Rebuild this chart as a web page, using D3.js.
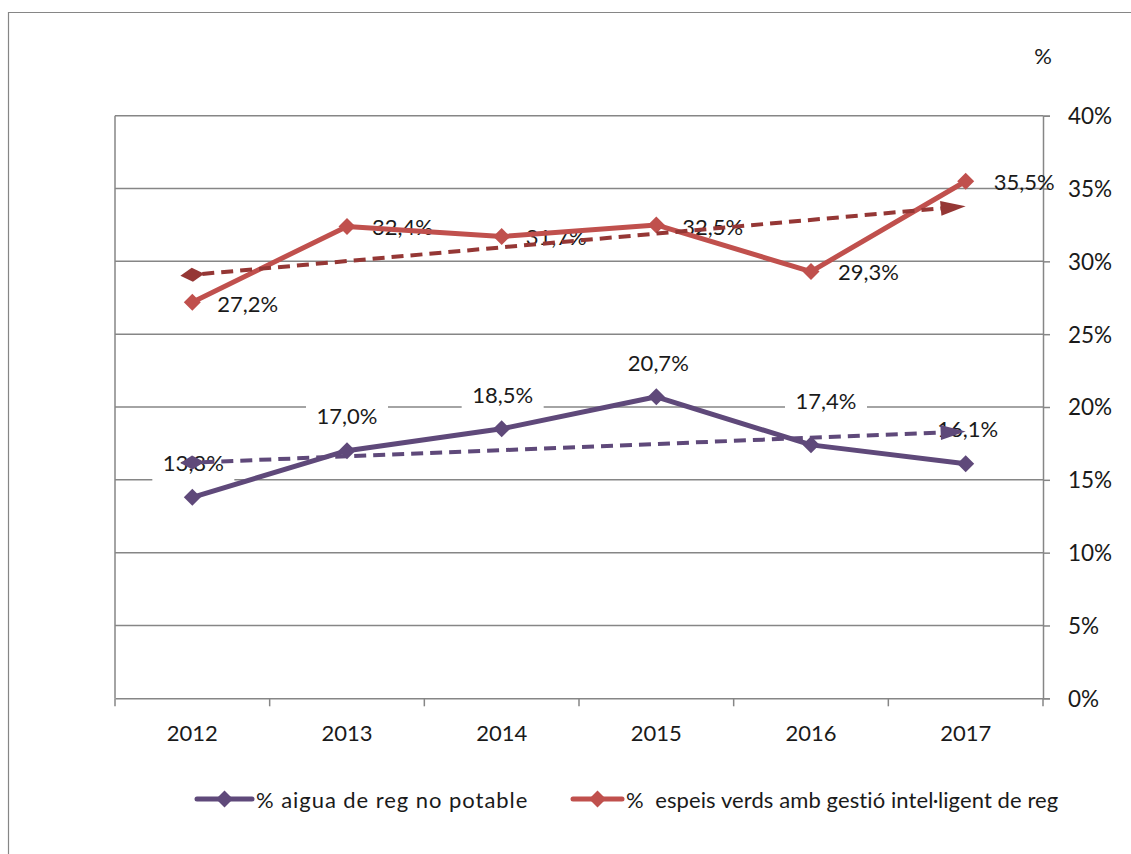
<!DOCTYPE html>
<html>
<head>
<meta charset="utf-8">
<script src="https://cdn.jsdelivr.net/npm/d3@7"></script>
<style>
  html, body { margin: 0; padding: 0; background: #fff; }
  svg { display: block; }
  text { font-family: Lato, "Open Sans", sans-serif; fill: #1a1a1a; }
</style>
</head>
<body>
<svg id="chart" width="1131" height="854"></svg>
<script>
// ---- data ----
const years = ["2012", "2013", "2014", "2015", "2016", "2017"];
const aiguaNoPotable = [13.8, 17.0, 18.5, 20.7, 17.4, 16.1];
const espaisGestio = [27.2, 32.4, 31.7, 32.5, 29.3, 35.5];
const yTicks = [0, 5, 10, 15, 20, 25, 30, 35, 40];
const seriesNames = ["% aigua de reg no potable", "%  espeis verds amb gestió intel·ligent de reg"];

// ---- layout (label offsets in px, not data) ----
const purpleLabelOffsets = [[1, -34], [0, -34], [1, -34], [2, -34], [15, -44], [2, -35]];
const redLabelOffsets = [[25, 2], [25, 1], [24, 1], [26, 2], [27, 1], [28, 1]];

const svg = d3.select("#chart");
const W = 1131, H = 854;
const L = 115, R = 1043, T = 115.7, B = 698.3;

const x = d3.scaleBand().domain(years).range([L, R]);
const y = d3.scaleLinear().domain([0, 40]).range([B, T]);
const cx = d => x(d) + x.bandwidth() / 2;

const grey = "#868686";
const purple = "#5F497A";
const red = "#C0504D";
const redTrend = "#953735";

// outer border
svg.append("path")
  .attr("d", `M8.5,${H + 5} L8.5,12.5 L${W + 5},12.5`)
  .attr("fill", "none").attr("stroke", grey).attr("stroke-width", 1.2);

// gridlines
svg.append("g").selectAll("line").data(yTicks.filter(t => t > 0)).join("line")
  .attr("x1", L).attr("x2", R)
  .attr("y1", d => y(d)).attr("y2", d => y(d))
  .attr("stroke", grey).attr("stroke-width", 1.5);

// left plot border
svg.append("line").attr("x1", L).attr("x2", L).attr("y1", T).attr("y2", B)
  .attr("stroke", grey).attr("stroke-width", 1.5);

// right y axis
const yAxis = d3.axisRight(y).tickValues(yTicks).tickSize(7).tickFormat(d => d + "%");
const gy = svg.append("g").attr("transform", `translate(${R},0)`).call(yAxis);
gy.select(".domain").attr("stroke", grey).attr("stroke-width", 1.5);
gy.selectAll(".tick line").attr("stroke", grey).attr("stroke-width", 1.5);
gy.selectAll(".tick text").attr("x", 25).attr("dy", "0.35em")
  .style("font-family", "Lato, sans-serif").style("font-size", "22.5px").attr("fill", "#1a1a1a");

// bottom x axis
const xAxis = d3.axisBottom(x).tickSize(0).tickPadding(28);
const gx = svg.append("g").attr("transform", `translate(0,${B})`).call(xAxis);
gx.select(".domain").attr("stroke", grey).attr("stroke-width", 1.5);
gx.selectAll(".tick text").style("font-family", "Lato, sans-serif").style("font-size", "22px")
  .attr("fill", "#1a1a1a").attr("dy", "0.35em").attr("y", 35);
// category boundary ticks
const bounds = years.map(d => x(d)).concat([R]);
svg.append("g").selectAll("line").data(bounds).join("line")
  .attr("x1", d => d).attr("x2", d => d).attr("y1", B).attr("y2", B + 8)
  .attr("stroke", grey).attr("stroke-width", 1.5);

// "%" unit label
svg.append("text").attr("x", 1043).attr("y", 56).attr("dy", "0.35em")
  .attr("text-anchor", "middle").style("font-size", "22px").text("%");

// purple labels with white boxes
const pl = svg.append("g");
years.forEach((yr, i) => {
  const tx = cx(yr) + purpleLabelOffsets[i][0];
  const ty = y(aiguaNoPotable[i]) + purpleLabelOffsets[i][1];
  pl.append("rect").attr("x", tx - 41).attr("y", ty - 19).attr("width", 82).attr("height", 38).attr("fill", "#fff");
  pl.append("text").attr("x", tx).attr("y", ty).attr("dy", "0.35em").attr("text-anchor", "middle")
    .style("font-size", "22px").text(aiguaNoPotable[i].toFixed(1).replace(".", ",") + "%");
});
// red labels (no box)
years.forEach((yr, i) => {
  svg.append("text").attr("x", cx(yr) + redLabelOffsets[i][0])
    .attr("y", y(espaisGestio[i]) + redLabelOffsets[i][1]).attr("dy", "0.35em")
    .style("font-size", "22px").text(espaisGestio[i].toFixed(1).replace(".", ",") + "%");
});

// main lines
const line = d3.line().x((d, i) => cx(years[i])).y(d => y(d));
function diamond(g, px, py, color, s) {
  g.append("path").attr("d", `M${px},${py - s} L${px + s},${py} L${px},${py + s} L${px - s},${py} Z`)
    .attr("fill", color);
}
[[aiguaNoPotable, purple], [espaisGestio, red]].forEach(([vals, col]) => {
  svg.append("path").datum(vals).attr("d", line).attr("fill", "none")
    .attr("stroke", col).attr("stroke-width", 5).attr("stroke-linejoin", "round");
  const g = svg.append("g");
  vals.forEach((v, i) => diamond(g, cx(years[i]), y(v), col, 8.5));
});

// linear trendlines (least squares on series values)
function trend(vals) {
  const n = vals.length;
  const xs = vals.map((_, i) => i + 1);
  const mx = d3.mean(xs), my = d3.mean(vals);
  const b = d3.sum(xs.map((xx, i) => (xx - mx) * (vals[i] - my))) / d3.sum(xs.map(xx => (xx - mx) ** 2));
  const a = my - b * mx;
  return [a + b * 1, a + b * n];
}
[[aiguaNoPotable, purple], [espaisGestio, redTrend]].forEach(([vals, col]) => {
  const [v0, v1] = trend(vals);
  const x0 = cx(years[0]), y0 = y(v0), x1 = cx(years[years.length - 1]), y1 = y(v1);
  const ang = Math.atan2(y1 - y0, x1 - x0);
  const len = Math.hypot(x1 - x0, y1 - y0);
  const g = svg.append("g").attr("transform", `translate(${x0},${y0}) rotate(${ang * 180 / Math.PI})`);
  g.append("line").attr("x1", 10).attr("y1", 0).attr("x2", len - 18).attr("y2", 0)
    .attr("stroke", col).attr("stroke-width", 4).attr("stroke-dasharray", "12,7");
  // diamond start
  g.append("path").attr("d", `M-12,0 L0,-7 L12,0 L0,7 Z`).attr("fill", col);
  // arrow end
  g.append("path").attr("d", `M${len},0 L${len - 25},-7.5 L${len - 25},7.5 Z`).attr("fill", col);
});

// legend
const leg = [[197, 252, purple, 256, seriesNames[0], 0.95], [573, 622, red, 626, seriesNames[1], 0.1]];
leg.forEach(([a, b, col, tx, name, ls]) => {
  svg.append("line").attr("x1", a).attr("x2", b).attr("y1", 799).attr("y2", 799)
    .attr("stroke", col).attr("stroke-width", 5).attr("stroke-linecap", "round");
  diamond(svg, (a + b) / 2, 799, col, 8.5);
  svg.append("text").attr("x", tx).attr("y", 800).attr("dy", "0.35em")
    .style("font-size", "22px").style("letter-spacing", ls + "px").style("white-space", "pre").text(name);
});
</script>
</body>
</html>
